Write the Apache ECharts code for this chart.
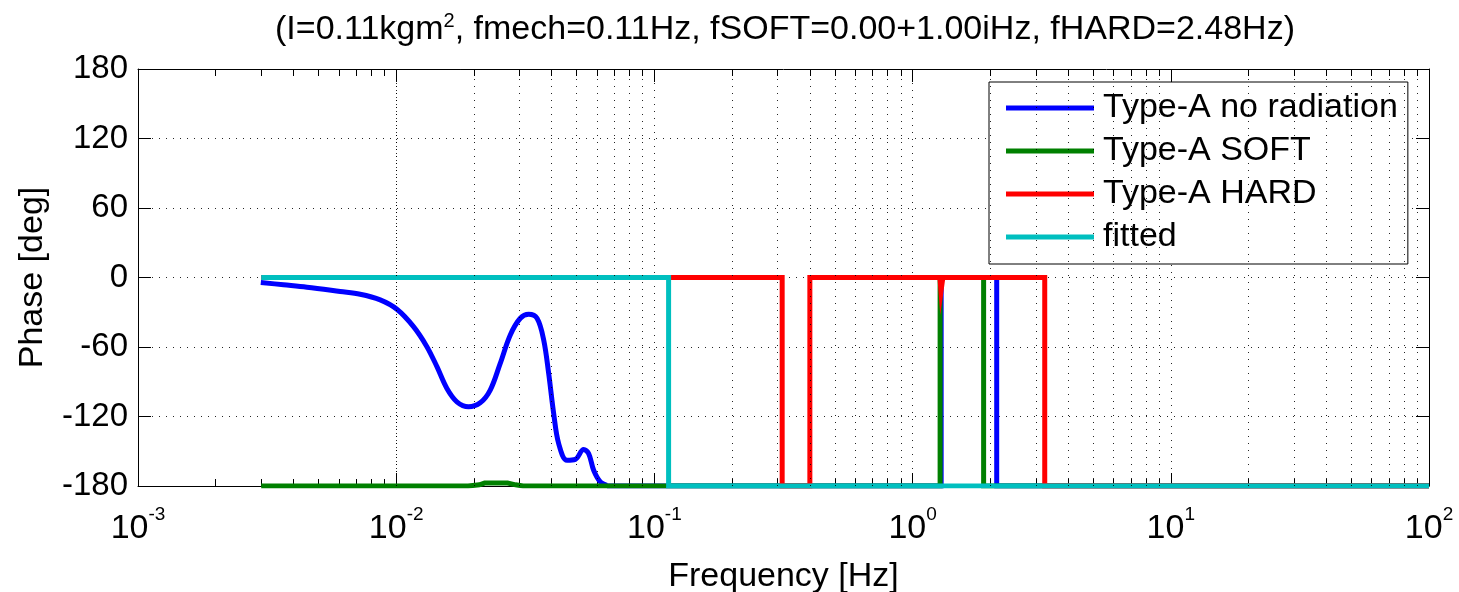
<!DOCTYPE html>
<html>
<head>
<meta charset="utf-8">
<script src="https://cdn.jsdelivr.net/npm/echarts@6/dist/echarts.min.js"></script>
<style>
html,body{margin:0;padding:0;background:#fff;}
#c{width:1459px;height:592px;}
</style>
</head>
<body>
<div id="c"></div>
<script>
// ---- data ----
const seriesNames = ['Type-A no radiation', 'Type-A SOFT', 'Type-A HARD', 'fitted'];
const yTicks = [-180, -120, -60, 0, 60, 120, 180];

// blue: smooth part
const blueCurveFreq = [0.00299,0.00366,0.00451,0.00607,0.00725,0.00867,0.01006,0.01167,0.01315,0.01438,0.01572,0.01718,0.01906,0.02115,0.02313,0.02529,0.02766,0.03024,0.03258,0.03511,0.03726,0.03895,0.04073,0.04259,0.04587,0.0494,0.05321,0.05564,0.05818,0.06174,0.06554];
const blueCurvePhase = [-4.3,-6.3,-8.4,-12.1,-14.4,-19.3,-27.4,-42.4,-59.7,-77,-95.8,-107.3,-111.6,-108.2,-97.2,-74.1,-49.6,-35.2,-31.7,-35.2,-53.9,-82.8,-117.4,-143.4,-157.8,-157.0,-148.5,-152,-166.4,-176.5,-179.4];
// blue: step part
const blueStepFreq = [0.06554,1.29,1.29,2.117,2.117,100];
const blueStepPhase = [-180,-180,0,0,-180,-180];
// green
const greenFreq = [0.003,0.019,0.021,0.022,0.027,0.029,0.031,1.278,1.278,1.884,1.884,100];
const greenPhase = [-180,-180,-179,-177.5,-177.5,-179,-180,-180,0,0,-180,-180];
// red
const redFreq = [0.003,0.3125,0.3125,0.40,0.40,1.276,1.288,1.298,1.31,3.249,3.249,100];
const redPhase = [0,0,-180,-180,0,0,-12,-12,0,0,-180,-180];
// cyan
const cyanFreq = [0.003,0.1135,0.1135,100];
const cyanPhase = [0,0,-180,-180];

const colors = ['#0000ff', '#008000', '#ff0000', '#00bfbf'];

function zip(a, b) { return a.map((v, i) => [v, b[i]]); }
const minorVals = [];
for (let d = -3; d <= 1; d++) for (let k = 2; k <= 9; k++) minorVals.push(+(k * Math.pow(10, d)).toPrecision(3));

const FONT = '"Liberation Sans", Arial, sans-serif';
const dotted = { color: '#000', width: 1, type: [1, 6], opacity: 0.85 };

function lineSeries(name, data, color, extra) {
  return Object.assign({
    type: 'line', name: name, data: data, symbol: 'none', showSymbol: false,
    xAxisIndex: 0, yAxisIndex: 0, animation: false,
    lineStyle: { color: color, width: 5, join: 'miter', cap: 'butt' },
    itemStyle: { color: color }
  }, extra || {});
}

const chart = echarts.init(document.getElementById('c'), null, { renderer: 'canvas' });
const option = {
  backgroundColor: '#fff',
  animation: false,
  textStyle: { fontFamily: FONT },
  title: {
    text: '(I=0.11kgm{sup|2}, fmech=0.11Hz, fSOFT=0.00+1.00iHz, fHARD=2.48Hz)',
    left: 780, top: 6, textAlign: 'center',
    textStyle: {
      fontFamily: FONT, fontSize: 34, fontWeight: 'normal', color: '#000',
      rich: { sup: { fontFamily: FONT, fontSize: 20, verticalAlign: 'top', color: '#000', padding: [0, 0, 18, 0] } }
    }
  },
  grid: { left: 138, right: 30, top: 69, bottom: 106, containLabel: false, outerBoundsMode: 'none' },
  legend: {
    data: seriesNames.map((n, i) => ({ name: n, icon: 'rect', itemStyle: { color: colors[i] } })),
    orient: 'vertical',
    left: 989, top: 82,
    padding: [8, 10, 9, 17],
    itemGap: 7,
    itemWidth: 88, itemHeight: 5,
    backgroundColor: '#fff',
    borderColor: '#000', borderWidth: 1,
    textStyle: { fontFamily: FONT, fontSize: 34, color: '#000', lineHeight: 36, padding: [0, 0, 0, 4] }
  },
  xAxis: [
    {
      type: 'log', logBase: 10, min: 0.001, max: 100, position: 'bottom',
      axisLine: { show: true, onZero: false, lineStyle: { color: '#000', width: 1 } },
      axisTick: { show: true, inside: true, length: 13, lineStyle: { color: '#000' } },
      axisLabel: {
        margin: 19, color: '#000',
        formatter: function (v) { const e = Math.round(Math.log10(v)); return '{b|10}{s|' + e + '}'; },
        rich: {
          b: { fontFamily: FONT, fontSize: 34, color: '#000', verticalAlign: 'bottom', lineHeight: 34 },
          s: { fontFamily: FONT, fontSize: 19, color: '#000', verticalAlign: 'top', padding: [0, 0, 22, 0] }
        }
      },
      splitLine: { show: true, lineStyle: dotted },
      name: 'Frequency [Hz]', nameLocation: 'middle', nameGap: 74,
      nameTextStyle: { fontFamily: FONT, fontSize: 34, color: '#000' }
    },
    {
      type: 'log', logBase: 10, min: 0.001, max: 100, position: 'top',
      axisLine: { show: true, onZero: false, lineStyle: { color: '#000', width: 1 } },
      axisTick: { show: true, inside: true, length: 13, lineStyle: { color: '#000' } },
      axisLabel: { show: false }, splitLine: { show: false }
    },
    {
      type: 'log', logBase: 10, min: 0.001, max: 100, position: 'bottom',
      axisLine: { show: false, onZero: false },
      axisTick: { show: true, inside: true, length: 7, customValues: minorVals, lineStyle: { color: '#000' } },
      axisLabel: { show: false }, splitLine: { show: false }
    },
    {
      type: 'log', logBase: 10, min: 0.001, max: 100, position: 'top',
      axisLine: { show: false, onZero: false },
      axisTick: { show: true, inside: true, length: 7, customValues: minorVals, lineStyle: { color: '#000' } },
      axisLabel: { show: false }, splitLine: { show: false }
    }
  ],
  yAxis: [
    {
      type: 'value', min: -180, max: 180, interval: 60, position: 'left',
      axisLine: { show: true, onZero: false, lineStyle: { color: '#000', width: 1 } },
      axisTick: { show: true, inside: true, length: 13, lineStyle: { color: '#000' } },
      axisLabel: { margin: 10, color: '#000', fontFamily: FONT, fontSize: 33,
        customValues: yTicks },
      splitLine: { show: true, lineStyle: dotted },
      name: 'Phase [deg]', nameLocation: 'middle', nameGap: 88,
      nameTextStyle: { fontFamily: FONT, fontSize: 34, color: '#000' }
    },
    {
      type: 'value', min: -180, max: 180, interval: 60, position: 'right',
      axisLine: { show: true, onZero: false, lineStyle: { color: '#000', width: 1 } },
      axisTick: { show: true, inside: true, length: 13, lineStyle: { color: '#000' } },
      axisLabel: { show: false }, splitLine: { show: false }
    }
  ],
  series: [
    {
      type: 'line', name: '_grid', data: [], symbol: 'none', silent: true, animation: false,
      xAxisIndex: 0, yAxisIndex: 0,
      markLine: {
        silent: true, symbol: 'none', animation: false,
        label: { show: false },
        lineStyle: dotted,
        emphasis: { disabled: true },
        data: minorVals.map(v => ({ xAxis: v }))
      }
    },
    lineSeries(seriesNames[0], zip(blueCurveFreq, blueCurvePhase), colors[0], { smooth: 0.35 }),
    lineSeries(seriesNames[0], zip(blueStepFreq, blueStepPhase), colors[0]),
    lineSeries(seriesNames[1], zip(greenFreq, greenPhase), colors[1]),
    lineSeries(seriesNames[2], zip(redFreq, redPhase), colors[2]),
    lineSeries(seriesNames[3], zip(cyanFreq, cyanPhase), colors[3])
  ]
};
chart.setOption(option);
</script>
</body>
</html>
